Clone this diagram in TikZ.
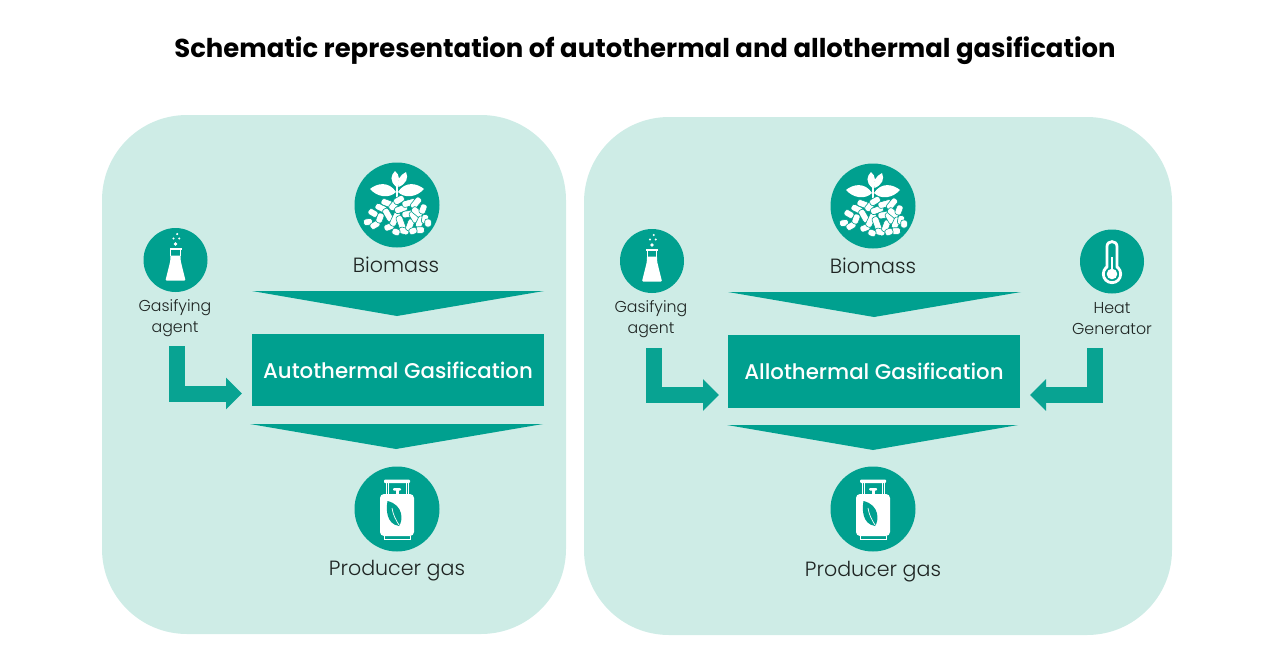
\documentclass[tikz,border=0pt]{standalone}
\usepackage{fontspec}
\setmainfont{Poppins}
\newfontfamily\lightfont[BoldFont={Poppins Medium}]{Poppins Light}
\usetikzlibrary{arrows.meta}
\definecolor{tealmain}{HTML}{00A08F}
\definecolor{tealpale}{HTML}{CEECE6}
\definecolor{inktext}{HTML}{1E2422}
\tikzset{
  panel/.style={fill=tealpale, rounded corners=85pt, inner sep=0pt},
  gasbox/.style={fill=tealmain, text=white, inner sep=0pt, minimum width=292pt, font=\lightfont\bfseries\fontsize{21.3}{26}\selectfont},
  wedge/.style={fill=tealmain},
  bigdisc/.style={circle, fill=tealmain, minimum size=85pt, inner sep=0pt},
  smalldisc/.style={circle, fill=tealmain, minimum size=64pt, inner sep=0pt},
  biglabel/.style={text=inktext, font=\lightfont\fontsize{20.6}{24}\selectfont},
  smalllabel/.style={text=inktext, align=center, font=\lightfont\fontsize{15.8}{21}\selectfont},
  feedarrow/.style={draw=tealmain!97!white, line width=16pt, -{Triangle[length=16pt, width=31pt]}},
  pics/biomassicon/.style={code={
    \fill[white] (-1,-3) rectangle (1,-30);
    \fill[white] (-.5,-18) .. controls (-8,-24) and (-6,-30) .. (-2,-34) .. controls (3,-30) and (3,-24) .. cycle;
    \fill[white] (1.5,-18) .. controls (-1,-24) and (3,-30) .. (9,-33) .. controls (12,-27) and (9,-21) .. cycle;
    \fill[white] (-1,-13) .. controls (-8,-24) and (-20,-22) .. (-27,-16) .. controls (-20,-8) and (-8,-6) .. cycle;
    \fill[white] (1,-13) .. controls (8,-24) and (20,-22) .. (27,-16) .. controls (20,-8) and (8,-6) .. cycle;
    \foreach \px/\py/\pa/\pl in {
      -29/17/10/9, -24/8/-30/10, -22/20/30/10, -17/13/70/10, -16/3/-25/12,
      -10/-2/-20/12, -9/10/-60/14, -8/22/20/10, -3/0/50/12, -2/14/65/15,
      2/-5/30/11, 4/4/20/13, 4/18/-70/15, 7/26/-15/10, 11/9/10/12,
      12/-2/15/14, 13/20/70/12, 17/12/-60/12, 19/-2/50/13, 20/7/-40/12,
      23/17/65/12, 23/25/0/9, 26/4/70/10, 28/14/80/9, 31/18/90/8, 16/26/20/8, -1/27/-20/8} {
      \draw[tealmain, line width=.6pt, rounded corners=2.4pt, fill=white, rotate around={\pa:(\px,\py)}] (\px-\pl/2,\py-3.3) rectangle (\px+\pl/2,\py+3.3);
    }
  }},
  pics/flaskicon/.style={code={
    \fill[white] (-6,-12.5) rectangle (6,-10.5);
    \draw[white, line width=1pt] (-4.7,-10.5) -- (-4.7,-4) (4.7,-10.5) -- (4.7,-4);
    \fill[white, rounded corners=1pt] (-5.2,-4.5) -- (5.2,-4.5) -- (5.2,1) -- (10,20.5) -- (-10,20.5) -- (-5.2,1) -- cycle;
    \fill[white] (0,-16) circle (1.9) (-2,-21.5) circle (1.1) (1.7,-26) circle (1.2) (3.8,-21.5) circle (1.1);
  }},
  pics/bottleicon/.style={code={
    \fill[white, rounded corners=1pt] (-13,-29.5) rectangle (13,-26);
    \draw[white, line width=.8pt] (-11,-26) -- (-11,-14) (-9,-26) -- (-9,-14) (11,-26) -- (11,-14) (9,-26) -- (9,-14);
    \fill[white, rounded corners=1pt] (-4,-21) rectangle (4,-18.5);
    \fill[white] (-1.5,-19) rectangle (1.5,-14);
    \fill[white, rounded corners=4pt] (-17,-15) rectangle (17,27);
    \draw[white, line width=.8pt] (-13,27) -- (-13,30) -- (13,30) -- (13,27);
    \fill[tealmain] (-9.5,-8) .. controls (-11,0) and (-11,15) .. (2,17) .. controls (6,12) and (7,-4) .. cycle;
    \draw[white, line width=.7pt] (-5,-1) .. controls (-4,6) and (-1,11) .. (2,16);
  }},
  pics/thermoicon/.style={code={
    \draw[white, line width=2.8pt] (0,12.5) circle (8.7);
    \fill[tealmain] (-3.8,0) rectangle (3.8,6);
    \draw[white, line width=2.8pt] (-5,6.2) -- (-5,-15) .. controls (-5,-21.5) and (5,-21.5) .. (5,-15) -- (5,6.2);
    \fill[white] (0,12.5) circle (5.3);
    \fill[white] (-1,-5) rectangle (1,10);
  }}
}
\begin{document}
\begin{tikzpicture}[x=1pt, y=-1pt]
  \useasboundingbox (0,0) rectangle (1270,656);
  \node (title) at (645,51) {\fontsize{25.9}{30}\selectfont\bfseries Schematic representation of autothermal and allothermal gasification};

  \node[panel, minimum width=464pt, minimum height=519pt] (autopanel) at (334,374.5) {};
  \node[panel, minimum width=588pt, minimum height=518pt] (allopanel) at (878,376) {};

  \node[bigdisc] (biomassa) at (397,205) {};
  \node[bigdisc] (biomassb) at (873,206) {};
  \node[bigdisc] (gasa) at (397,509) {};
  \node[bigdisc] (gasb) at (873,509) {};
  \node[smalldisc] (agenta) at (175.5,260) {};
  \node[smalldisc] (agentb) at (652,261) {};
  \node[smalldisc] (heat) at (1112,261.5) {};

  \pic at (biomassa) {biomassicon};
  \pic at (biomassb) {biomassicon};
  \pic at (gasa) {bottleicon};
  \pic at (gasb) {bottleicon};
  \pic at (agenta) {flaskicon};
  \pic at (agentb) {flaskicon};
  \pic at (heat) {thermoicon};

  \node[biglabel] (biomassatext) at (396,265) {Biomass};
  \node[biglabel] (biomassbtext) at (873,266) {Biomass};
  \node[biglabel] (gasatext) at (397,570.5) {Producer gas};
  \node[biglabel] (gasbtext) at (873,571.5) {Producer gas};
  \node[smalllabel] (agentatext) at (175,318.5) {Gasifying\\agent};
  \node[smalllabel] (agentbtext) at (651,319.5) {Gasifying\\agent};
  \node[smalllabel] (heattext) at (1112,318.5) {Heat\\Generator};

  \node[gasbox, minimum height=72pt] (autobox) at (398,370) {\raisebox{-1.5pt}{Autothermal Gasification}};
  \node[gasbox, minimum height=73pt] (allobox) at (874,371.5) {\raisebox{-1.5pt}{Allothermal Gasification}};

  \fill[wedge] (252,291) -- (544,291) -- (397,316) -- cycle;
  \fill[wedge] (250,424) -- (543,424) -- (396,449) -- cycle;
  \fill[wedge] (728,292) -- (1021,292) -- (874,317) -- cycle;
  \fill[wedge] (727,425) -- (1018,425) -- (873,450) -- cycle;

  \coordinate (agentaout) at (177,346);
  \coordinate (agentain) at (242,393.5);
  \coordinate (agentbout) at (653.5,348);
  \coordinate (agentbin) at (719,395);
  \coordinate (heatout) at (1094.5,348);
  \coordinate (heatin) at (1030,395);
  \draw[feedarrow] (agentaout) |- (agentain);
  \draw[feedarrow] (agentbout) |- (agentbin);
  \draw[feedarrow] (heatout) |- (heatin);
\end{tikzpicture}
\end{document}
